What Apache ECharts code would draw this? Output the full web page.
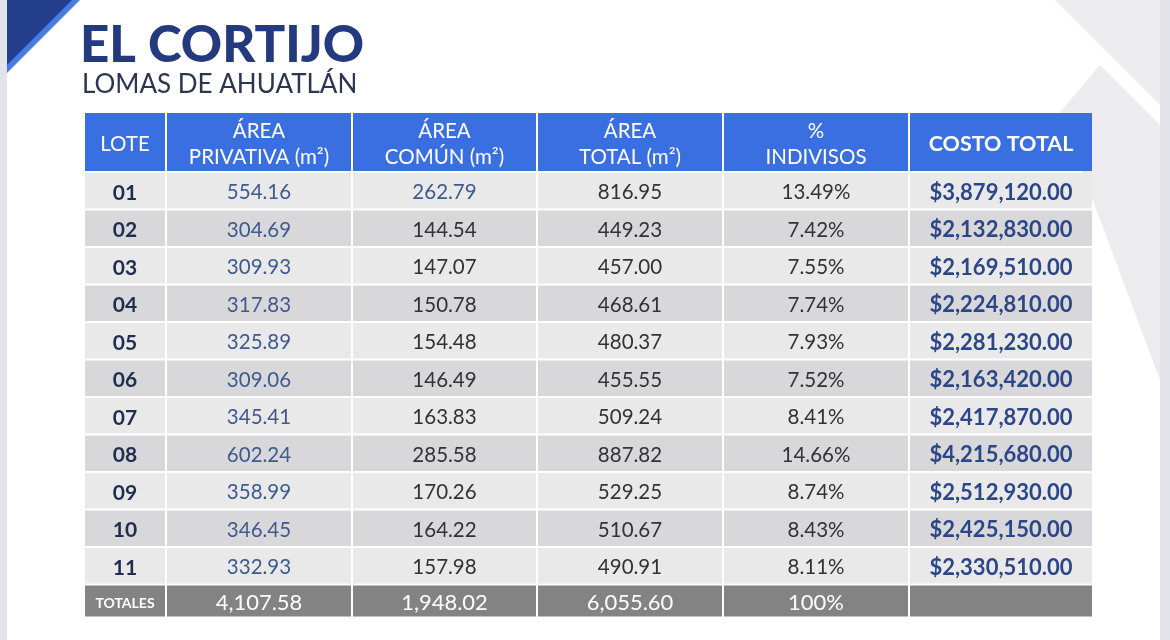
<!DOCTYPE html>
<html>
<head>
<meta charset="utf-8">
<script src="https://cdn.jsdelivr.net/npm/echarts@6/dist/echarts.min.js"></script>
<style>
  html, body { margin: 0; padding: 0; background: #fff; }
  #main { width: 1170px; height: 640px; }
</style>
</head>
<body>
<div id="main"></div>
<script>
const headers = ['LOTE', 'ÁREA\nPRIVATIVA (m²)', 'ÁREA\nCOMÚN (m²)', 'ÁREA\nTOTAL (m²)', '%\nINDIVISOS', 'COSTO TOTAL']
const lotes = ['01', '02', '03', '04', '05', '06', '07', '08', '09', '10', '11']
const privativa = ['554.16', '304.69', '309.93', '317.83', '325.89', '309.06', '345.41', '602.24', '358.99', '346.45', '332.93']
const comun = ['262.79', '144.54', '147.07', '150.78', '154.48', '146.49', '163.83', '285.58', '170.26', '164.22', '157.98']
const total = ['816.95', '449.23', '457.00', '468.61', '480.37', '455.55', '509.24', '887.82', '529.25', '510.67', '490.91']
const indivisos = ['13.49%', '7.42%', '7.55%', '7.74%', '7.93%', '7.52%', '8.41%', '14.66%', '8.74%', '8.43%', '8.11%']
const costo = ['$3,879,120.00', '$2,132,830.00', '$2,169,510.00', '$2,224,810.00', '$2,281,230.00', '$2,163,420.00', '$2,417,870.00', '$4,215,680.00', '$2,512,930.00', '$2,425,150.00', '$2,330,510.00']
const totales = ['TOTALES', '4,107.58', '1,948.02', '6,055.60', '100%', '']

// layout: column edges along x axis, row edges along y axis (axis units)
const colEdges = [0, 82, 268, 453, 639, 825, 1009]
const rowEdges = [0, 60]
for (let i = 0; i < 11; i++) rowEdges.push(60 + 37.5 * (i + 1))
rowEdges.push(rowEdges[rowEdges.length - 1] + 33)

const cells = []
headers.forEach((h, c) => cells.push([c, 0, h]))
lotes.forEach((l, r) => {
  const row = [l, privativa[r], comun[r], total[r], indivisos[r], costo[r]]
  row.forEach((v, c) => cells.push([c, r + 1, v]))
})
totales.forEach((t, c) => cells.push([c, 12, t]))

function renderItem (params, api) {
  const c = api.value(0)
  const r = api.value(1)
  const txt = cells[params.dataIndex][2]
  const p0 = api.coord([colEdges[c], rowEdges[r]])
  const p1 = api.coord([colEdges[c + 1], rowEdges[r + 1]])
  let fill, color, weight = 'normal', size = 20.5
  if (r === 0) {
    fill = '#3a6fe2'; color = '#fff'
    if (c === 5) { weight = 'bold'; size = 21.5 }
  } else if (r === 12) {
    fill = '#838383'; color = '#fff'
    if (c === 0) { weight = 'bold'; size = 14 } else { size = 22 }
  } else {
    fill = r % 2 === 1 ? '#e9e9ea' : '#d8d8da'
    color = '#333'
    if (c === 0) { weight = 'bold'; color = '#1f2e4f'; size = 21 }
    if (c === 1 || (c === 2 && r === 1)) color = '#3e5a8e'
    if (c === 5) { weight = 'bold'; color = '#2c4788'; size = 22 }
  }
  return {
    type: 'group',
    children: [
      {
        type: 'rect',
        shape: { x: p0[0] + 1, y: p0[1] + 1, width: p1[0] - p0[0] - 2, height: p1[1] - p0[1] - 2 },
        style: { fill: fill }
      },
      {
        type: 'text',
        style: {
          x: (p0[0] + p1[0]) / 2,
          y: (p0[1] + p1[1]) / 2 + 2,
          text: txt,
          fill: color,
          font: weight + ' ' + size + 'px Lato',
          align: 'center',
          verticalAlign: 'middle',
          lineHeight: 26
        }
      }
    ]
  }
}

const chart = echarts.init(document.getElementById('main'))
chart.setOption({
  backgroundColor: '#fff',
  animation: false,
  grid: { left: 84, top: 112, width: 1009, height: rowEdges[rowEdges.length - 1] },
  xAxis: { type: 'value', min: 0, max: colEdges[colEdges.length - 1], show: false },
  yAxis: { type: 'value', min: 0, max: rowEdges[rowEdges.length - 1], inverse: true, show: false },
  graphic: [
    { type: 'rect', shape: { x: 0, y: 0, width: 7, height: 640 }, style: { fill: '#e3e4ea' }, z: -10 },
    { type: 'rect', shape: { x: 1160, y: 0, width: 10, height: 640 }, style: { fill: '#e3e4ea' }, z: -10 },
    { type: 'polygon', shape: { points: [[1055, 0], [1160, 0], [1160, 105]] }, style: { fill: '#ececee' }, z: -10 },
    { type: 'polygon', shape: { points: [[1060, 112], [1100, 65], [1160, 125], [1160, 380]] }, style: { fill: '#ececee' }, z: -10 },
    { type: 'polygon', shape: { points: [[7, 0], [80, 0], [7, 73]] }, style: { fill: '#4a7ae6' }, z: -5 },
    { type: 'polygon', shape: { points: [[7, 0], [72, 0], [7, 65]] }, style: { fill: '#233f8c' }, z: -4 },
    { type: 'text', left: 80, top: 20, style: { text: 'EL CORTIJO', fill: '#233b7e', font: '900 51px Lato' } },
    { type: 'text', left: 82, top: 72, style: { text: 'LOMAS DE AHUATLÁN', fill: '#2c3650', font: '26px Lato', letterSpacing: 1.5 } }
  ],
  series: [{
    type: 'custom',
    renderItem: renderItem,
    data: cells.map(d => [d[0], d[1]])
  }]
})
</script>
</body>
</html>
